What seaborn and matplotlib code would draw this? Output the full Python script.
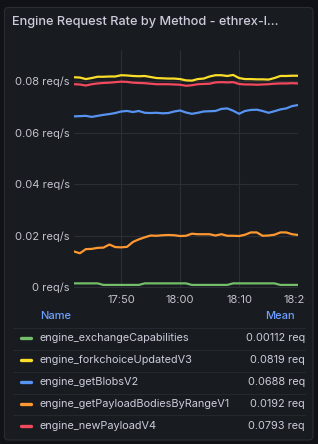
import numpy as np
import pandas as pd
import seaborn as sns
import matplotlib
matplotlib.use("Agg")
import matplotlib.pyplot as plt
from matplotlib.patches import FancyBboxPatch
from matplotlib.lines import Line2D
from matplotlib.transforms import Bbox, IdentityTransform

# ---------------- data ----------------
methods = [
    "engine_exchangeCapabilities",
    "engine_forkchoiceUpdatedV3",
    "engine_getBlobsV2",
    "engine_getPayloadBodiesByRangeV1",
    "engine_newPayloadV4",
]
mean_labels = ["0.00112 req", "0.0819 req", "0.0688 req", "0.0192 req", "0.0793 req"]
colors = ["#73BF69", "#FADE2A", "#5794F2", "#FF9830", "#F2495C"]

times = pd.date_range("2024-01-01 17:42", "2024-01-01 18:20", freq="1min")

exchange = [0.0014, 0.0014, 0.0014, 0.0014, 0.0014, 0.0008, 0.0008, 0.0008, 0.0008, 0.0008,
            0.0008, 0.0008, 0.0014, 0.0014, 0.0014, 0.0014, 0.0014, 0.0014, 0.0014, 0.0014,
            0.0008, 0.0008, 0.0008, 0.0008, 0.0008, 0.0008, 0.0008, 0.0014, 0.0014, 0.0014,
            0.0014, 0.0014, 0.0014, 0.0014, 0.0014, 0.0008, 0.0008, 0.0008, 0.0008]
forkchoice = [0.0815, 0.0814, 0.0808, 0.0812, 0.0817, 0.0817, 0.0818, 0.0818, 0.0823, 0.0822,
              0.0820, 0.0819, 0.0820, 0.0816, 0.0812, 0.0811, 0.0810, 0.0810, 0.0808, 0.0803,
              0.0802, 0.0808, 0.0810, 0.0818, 0.0823, 0.0823, 0.0820, 0.0824, 0.0812, 0.0808,
              0.0808, 0.0807, 0.0807, 0.0806, 0.0812, 0.0820, 0.0820, 0.0821, 0.0821]
blobs = [0.0663, 0.0664, 0.0665, 0.0661, 0.0665, 0.0669, 0.0672, 0.0676, 0.0682, 0.0684,
         0.0680, 0.0684, 0.0677, 0.0676, 0.0677, 0.0675, 0.0676, 0.0682, 0.0686, 0.0678,
         0.0673, 0.0677, 0.0682, 0.0683, 0.0684, 0.0692, 0.0694, 0.0685, 0.0673, 0.0684,
         0.0688, 0.0689, 0.0684, 0.0677, 0.0683, 0.0690, 0.0694, 0.0703, 0.0707]
payload_bodies = [0.0138, 0.0131, 0.0147, 0.0148, 0.0152, 0.0153, 0.0165, 0.0155, 0.0154, 0.0156,
                  0.0175, 0.0185, 0.0193, 0.0200, 0.0199, 0.0201, 0.0202, 0.0201, 0.0198, 0.0199,
                  0.0207, 0.0205, 0.0205, 0.0205, 0.0200, 0.0205, 0.0199, 0.0199, 0.0198, 0.0203,
                  0.0212, 0.0212, 0.0199, 0.0200, 0.0203, 0.0212, 0.0212, 0.0205, 0.0202]
new_payload = [0.0788, 0.0787, 0.0783, 0.0788, 0.0791, 0.0793, 0.0794, 0.0796, 0.0798, 0.0797,
               0.0794, 0.0793, 0.0792, 0.0790, 0.0788, 0.0788, 0.0788, 0.0787, 0.0786, 0.0782,
               0.0784, 0.0788, 0.0789, 0.0790, 0.0795, 0.0796, 0.0795, 0.0796, 0.0789, 0.0787,
               0.0787, 0.0786, 0.0787, 0.0788, 0.0790, 0.0791, 0.0791, 0.0792, 0.0791]

x_ticks = ["17:50", "18:00", "18:10", "18:20"]
y_ticks = [0, 0.02, 0.04, 0.06, 0.08]
y_tick_labels = ["0 req/s", "0.02 req/s", "0.04 req/s", "0.06 req/s", "0.08 req/s"]
title = "Engine Request Rate by Method - ethrex-l..."

series = [exchange, forkchoice, blobs, payload_bodies, new_payload]
df = pd.concat(
    [pd.DataFrame({"time": times, "value": v, "method": m}) for m, v in zip(methods, series)],
    ignore_index=True,
)
palette = dict(zip(methods, colors))

# ---------------- style ----------------
W, H = 318, 444
BG_OUT = "#111217"
BG = "#181b1f"
TXT = "#ccccdc"
sns.set_theme(style="dark")
plt.rcParams["font.family"] = ["Inter", "DejaVu Sans"]

fig = plt.figure(figsize=(W / 100, H / 100), dpi=100, facecolor=BG_OUT)

panel = FancyBboxPatch((4.5, H - 440), 308.5, 432.5,
                       boxstyle="round,pad=0,rounding_size=4",
                       transform=IdentityTransform(), facecolor=BG,
                       edgecolor="#2a2d33", lw=0.8, zorder=0)
fig.add_artist(panel)


def fx(x):
    return x / W


def fy(y):
    return (H - y) / H


fig.text(fx(12.5), fy(22.5), title, color=TXT, fontsize=9.2, fontweight="medium",
         ha="left", va="center")

ax = fig.add_axes([fx(74), fy(288), 224 / W, 238 / H])
ax.set_facecolor(BG)
sns.lineplot(data=df, x="time", y="value", hue="method", hue_order=methods,
             palette=palette, legend=False, ax=ax, linewidth=1.6)

ax.set_xlim(times[0], times[-1])
ax.set_ylim(-0.0004, 0.0921)
ax.set_xticks(pd.to_datetime(["2024-01-01 " + t for t in x_ticks]))
ax.set_xticklabels(x_ticks)
ax.set_yticks(y_ticks)
ax.set_yticklabels(y_tick_labels)
ax.set_xlabel("")
ax.set_ylabel("")
ax.grid(True, color="#2b2e34", lw=0.8)
ax.set_axisbelow(True)
for s in ax.spines.values():
    s.set_visible(False)
ax.tick_params(axis="both", length=0, labelsize=8, colors="#c4c4cf")
ax.tick_params(axis="y", pad=3)
ax.tick_params(axis="x", pad=5)

clip = Bbox.from_extents(0, 0, 305, H)
for lab in ax.get_xticklabels():
    lab.set_clip_on(True)
    lab.set_clip_box(clip)

# ---------------- legend table ----------------
HDR = "#6E9FFF"
fig.text(fx(40), fy(316), "Name", color=HDR, fontsize=8, fontweight="medium",
         ha="left", va="center")
fig.text(fx(295), fy(316), "Mean", color=HDR, fontsize=8, fontweight="medium",
         ha="right", va="center")

row_y = [338, 360, 382, 404, 425.5]
sep_y = [328, 350, 372, 393.5, 415]
for y in sep_y:
    fig.add_artist(Line2D([fx(13), fx(305)], [fy(y), fy(y)], color="#25282e", lw=0.8,
                          transform=fig.transFigure))
for m, c, lab, y in zip(methods, colors, mean_labels, row_y):
    fig.add_artist(Line2D([fx(21), fx(31)], [fy(y), fy(y)], color=c, lw=2.4,
                          solid_capstyle="round", transform=fig.transFigure))
    fig.text(fx(40), fy(y), m, color=TXT, fontsize=7.85, ha="left", va="center")
    fig.text(fx(305), fy(y), lab, color=TXT, fontsize=7.85, ha="right", va="center")

fig.savefig("out.png", dpi=100, facecolor=BG_OUT)
